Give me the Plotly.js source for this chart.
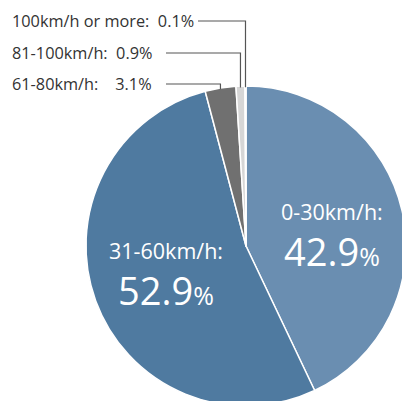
<!DOCTYPE html>
<html><head><meta charset="utf-8">
<script src="https://cdn.plot.ly/plotly-3.0.1.min.js"></script>
<style>html,body{margin:0;padding:0;overflow:hidden;background:#fff}#chart{width:410px;height:410px}</style>
</head><body><div id="chart"></div>
<script>
const categories = ["0-30km/h", "31-60km/h", "61-80km/h", "81-100km/h", "100km/h or more"];
const values = [42.9, 52.9, 3.1, 0.9, 0.1];
const colors = ["#6a8eb1", "#4f7aa0", "#707070", "#d6d6d6", "#eeeeee"];

const W = 410, H = 410, L = 86, T = 86, R = 4, B = 4;
const pw = W - L - R, ph = H - T - B;
const px = x => (x - L) / pw;
const py = y => 1 - (y - T) / ph;

const total = values.reduce((a, b) => a + b, 0);
let cum = 0;
const mids = values.map(v => { const m = (cum + v / 2) / total * 2 * Math.PI; cum += v; return m; });

const font = "'Open Sans', Lato, sans-serif";
const annotations = [];
const shapes = [];

// big inside labels
const big = [[0, 332, 211, 251], [1, 166, 250, 290]];
big.forEach(([i, x, y1, y2]) => {
  annotations.push({xref: "paper", yref: "paper", x: px(x), y: py(y1), text: categories[i] + ":",
    showarrow: false, font: {family: font, size: 21.5, color: "#ffffff"}, xanchor: "center", yanchor: "middle"});
  annotations.push({xref: "paper", yref: "paper", x: px(x), y: py(y2),
    text: values[i].toFixed(1) + "<span style='font-size:25px'>%</span>",
    showarrow: false, font: {family: font, size: 38, color: "#ffffff"}, xanchor: "center", yanchor: "middle"});
});

// outside labels with leader lines
const outside = [[4, 21, "  "], [3, 53, "  "], [2, 84, "    "]];
const textEnd = {4: 192, 3: 160, 2: 160};
outside.forEach(([i, y, gap]) => {
  annotations.push({xref: "paper", yref: "paper", x: px(10), y: py(y),
    text: categories[i] + ":" + gap.replace(/ /g, "&nbsp;") + values[i].toFixed(1) + "%",
    showarrow: false, font: {family: font, size: 16.3, color: "#333333"}, xanchor: "left", yanchor: "middle"});
  const ang = mids[i];
  const lx = 0.5 + 0.5 * Math.sin(ang);
  const ly = 0.5 + 0.5 * Math.cos(ang);
  shapes.push({type: "path", xref: "paper", yref: "paper",
    path: `M ${px(textEnd[i] + 6)} ${py(y)} L ${lx} ${py(y)} L ${lx} ${ly - 0.004}`,
    line: {color: "#555555", width: 1.2}});
});

Plotly.newPlot("chart", [{
  type: "pie", labels: categories, values: values, sort: false, direction: "clockwise", rotation: 0,
  marker: {colors: colors, line: {color: "#ffffff", width: 1.5}}, textinfo: "none", hoverinfo: "none",
  domain: {x: [0, 1], y: [0, 1]}
}], {
  width: W, height: H, margin: {l: L, r: R, t: T, b: B, autoexpand: false}, showlegend: false,
  paper_bgcolor: "#ffffff", annotations: annotations, shapes: shapes
}, {staticPlot: true});
</script></body></html>
